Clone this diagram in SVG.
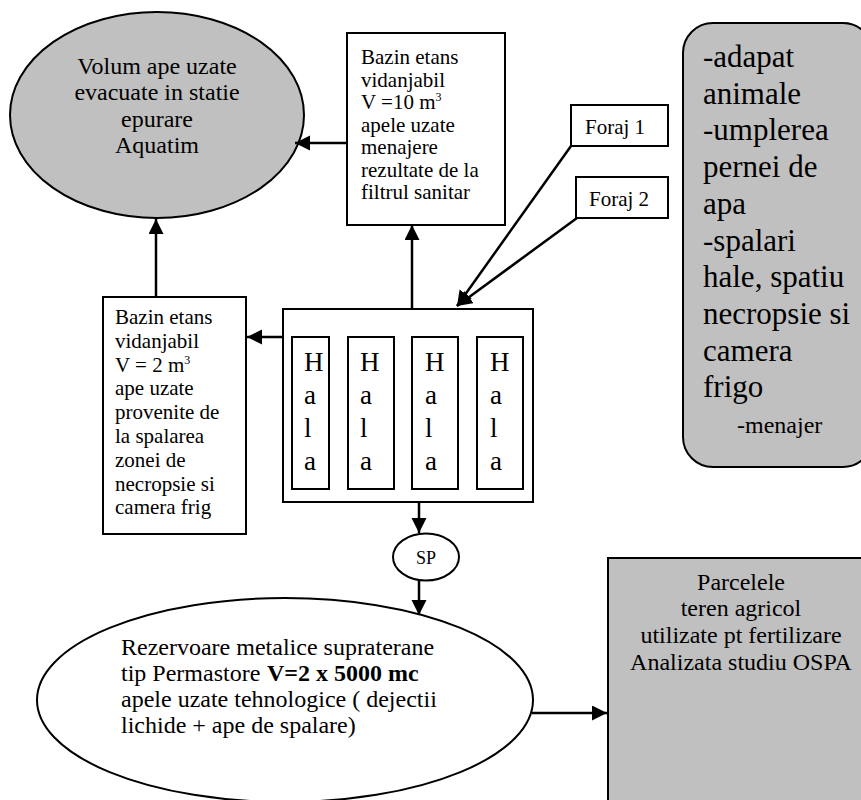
<svg xmlns="http://www.w3.org/2000/svg" width="861" height="800" viewBox="0 0 861 800" font-family="'Liberation Serif', 'Times New Roman', 'DejaVu Serif', serif">
<defs>
<style>
text{font-family:'Liberation Serif','Times New Roman','DejaVu Serif',serif;fill:#000}
.s21{font-size:21px}
.s24{font-size:24px}
.s31{font-size:31px}
.h{font-size:27px}
.box{fill:#fff;stroke:#000;stroke-width:2}
.grey{fill:#c0c0c0;stroke:#000;stroke-width:2}
.c{text-anchor:middle}
.con line{stroke:#000;stroke-width:2.5;marker-end:url(#ah)}
</style>
<marker id="ah" markerUnits="userSpaceOnUse" markerWidth="16" markerHeight="16" refX="15" refY="7.5" orient="auto">
<path d="M0,0 L15,7.5 L0,15 z" fill="#000"/>
</marker>
</defs>
<rect width="861" height="800" fill="#fff"/>

<g id="statie">
<ellipse class="grey" cx="157" cy="115" rx="147" ry="103"/>
<text class="s24 c" x="157" y="74">Volum ape uzate</text>
<text class="s24 c" x="157" y="100">evacuate in statie</text>
<text class="s24 c" x="157" y="127">epurare</text>
<text class="s24 c" x="157" y="153">Aquatim</text>
</g>

<g id="bazin10">
<rect class="box" x="347" y="33" width="158" height="192"/>
<text class="s21" x="361" y="64">Bazin etans</text>
<text class="s21" x="361" y="86.5">vidanjabil</text>
<text class="s21" x="361" y="109">V =10 m<tspan font-size="12" dy="-8">3</tspan></text>
<text class="s21" x="361" y="131.5">apele uzate</text>
<text class="s21" x="361" y="154">menajere</text>
<text class="s21" x="361" y="176.5">rezultate de la</text>
<text class="s21" x="361" y="199">filtrul sanitar</text>
</g>

<g id="foraj1">
<rect class="box" x="571" y="105" width="97" height="41"/>
<text class="s21" x="585" y="134">Foraj 1</text>
</g>

<g id="foraj2">
<rect class="box" x="576" y="177" width="92" height="41"/>
<text class="s21" x="589" y="206">Foraj 2</text>
</g>

<g id="utilizari">
<rect class="grey" x="683" y="23" width="190" height="444" rx="30" ry="30"/>
<text class="s31" x="703" y="67">-adapat</text>
<text class="s31" x="703" y="103.7">animale</text>
<text class="s31" x="703" y="140.4">-umplerea</text>
<text class="s31" x="703" y="177.1">pernei de</text>
<text class="s31" x="703" y="213.8">apa</text>
<text class="s31" x="703" y="250.5">-spalari</text>
<text class="s31" x="703" y="287.2">hale, spatiu</text>
<text class="s31" x="703" y="323.9">necropsie si</text>
<text class="s31" x="703" y="360.6">camera</text>
<text class="s31" x="703" y="397.3">frigo</text>
<text class="s24" x="737" y="433">-menajer</text>
</g>

<g id="bazin2">
<rect class="box" x="103" y="297" width="143" height="237"/>
<text class="s21" x="115" y="324">Bazin etans</text>
<text class="s21" x="115" y="348">vidanjabil</text>
<text class="s21" x="115" y="372">V = 2 m<tspan font-size="12" dy="-8">3</tspan></text>
<text class="s21" x="115" y="395">ape uzate</text>
<text class="s21" x="115" y="419">provenite de</text>
<text class="s21" x="115" y="443">la spalarea</text>
<text class="s21" x="115" y="467">zonei de</text>
<text class="s21" x="115" y="491">necropsie si</text>
<text class="s21" x="115" y="514">camera frig</text>
</g>

<g id="hale">
<rect class="box" x="283" y="309" width="250" height="193"/>
<rect class="box" x="292" y="337" width="37" height="152"/>
<rect class="box" x="348" y="337" width="46" height="152"/>
<rect class="box" x="412" y="337" width="46" height="152"/>
<rect class="box" x="477" y="337" width="46" height="152"/>
<text class="h" x="304" y="371">H</text><text class="h" x="304" y="404">a</text><text class="h" x="304" y="437">l</text><text class="h" x="304" y="470">a</text>
<text class="h" x="360" y="371">H</text><text class="h" x="360" y="404">a</text><text class="h" x="360" y="437">l</text><text class="h" x="360" y="470">a</text>
<text class="h" x="425" y="371">H</text><text class="h" x="425" y="404">a</text><text class="h" x="425" y="437">l</text><text class="h" x="425" y="470">a</text>
<text class="h" x="490" y="371">H</text><text class="h" x="490" y="404">a</text><text class="h" x="490" y="437">l</text><text class="h" x="490" y="470">a</text>
</g>

<g id="sp">
<ellipse class="box" cx="426" cy="557" rx="33" ry="23.5"/>
<text class="c" font-size="18" x="426" y="564">SP</text>
</g>

<g id="rezervoare">
<ellipse class="box" cx="285" cy="700" rx="248" ry="102"/>
<text class="s24" x="121" y="655">Rezervoare metalice suprateran<tspan>e</tspan></text>
<text class="s24" x="121" y="681">tip Permastore<tspan x="267" font-weight="bold">V=2 x 5000 mc</tspan></text>
<text class="s24" x="121" y="707">apele uzate tehnologice ( dejectii</text>
<text class="s24" x="121" y="733">lichide + ape de spalare)</text>
</g>

<g id="parcele">
<rect class="grey" x="608" y="558" width="270" height="260"/>
<text class="s24 c" x="741" y="590">Parcelele</text>
<text class="s24 c" x="741" y="616">teren agricol</text>
<text class="s24 c" x="741" y="643">utilizate pt fertilizare</text>
<text class="s24 c" x="741" y="670">Analizata studiu OSPA</text>
</g>

<g id="connectors" class="con">
<line x1="347" y1="143" x2="295" y2="143"/>
<line x1="412" y1="308" x2="412" y2="225"/>
<line x1="571" y1="146" x2="457" y2="306"/>
<line x1="577" y1="218" x2="457" y2="306"/>
<line x1="283" y1="337" x2="247" y2="337"/>
<line x1="156" y1="297" x2="156" y2="219"/>
<line x1="419" y1="502" x2="419" y2="533"/>
<line x1="419" y1="580" x2="419" y2="615"/>
<line x1="532" y1="713" x2="607" y2="713"/>
</g>
</svg>
